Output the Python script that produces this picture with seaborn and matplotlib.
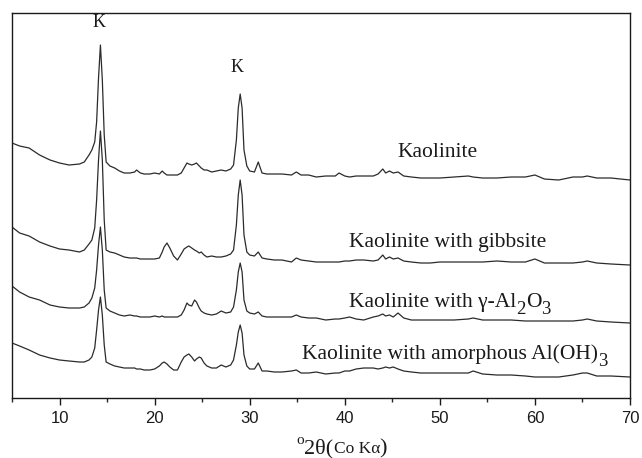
import matplotlib
matplotlib.use("Agg")
import matplotlib.pyplot as plt
import numpy as np
import pandas as pd
import seaborn as sns

# 2-theta grid (deg, Co K-alpha) shared by all four patterns
two_theta = [
    5.0, 5.8, 6.8, 7.9, 9.0, 10.0, 11.0, 12.1, 12.6, 13.1, 13.4, 13.7, 13.9, 14.1,
    14.3, 14.5, 14.7, 14.9, 15.3, 15.8, 16.3, 16.8, 17.4, 17.9, 18.1, 18.5, 18.9,
    19.5, 20.0, 20.5, 20.8, 21.0, 21.3, 21.6, 22.0, 22.4, 22.8, 23.1, 23.4, 23.6,
    23.9, 24.2, 24.4, 24.7, 24.9, 25.2, 25.5, 26.0, 26.5, 27.0, 27.5, 28.0, 28.3,
    28.6, 28.8, 29.0, 29.2, 29.4, 29.7, 30.0, 30.5, 30.9, 31.3, 31.8, 32.6, 33.4,
    34.4, 34.9, 35.4, 36.2, 37.0, 38.0, 39.0, 39.4, 40.0, 40.5, 41.2, 42.0, 43.0,
    43.5, 44.0, 44.3, 44.7, 45.1, 45.6, 46.2, 47.0, 48.0, 49.0, 50.0, 51.5, 53.0,
    53.5, 54.5, 56.0, 57.5, 59.0, 60.0, 61.0, 62.5, 64.0, 65.0, 65.5, 66.5, 68.0,
    70.0,
]

# intensities (a.u., already stacked)
kaolinite = [
    255, 252, 250, 243, 238, 235, 233, 234, 236, 243, 248, 256, 276, 320,
    353, 318, 263, 236, 232, 230, 227, 225, 225, 226, 228, 225, 224,
    224, 225, 224, 227, 225, 223, 223, 223, 223, 225, 230, 235, 234,
    233, 234, 235, 232, 230, 228, 228, 226, 227, 228, 227, 229, 233,
    258, 290, 304, 290, 248, 232, 227, 226, 236, 225, 224, 224, 224,
    223, 226, 223, 223, 221, 222, 222, 225, 222, 221, 222, 222, 222,
    224, 229, 225, 227, 225, 226, 222, 221, 220, 220, 220, 221, 222,
    221, 220, 220, 221, 221, 223, 219, 218, 221, 221, 222, 220, 220,
    218,
]
with_gibbsite = [
    171, 165, 162, 156, 152, 149, 148, 146, 148, 154, 158, 170, 198, 238,
    267, 238, 178, 148, 146, 145, 143, 141, 140, 140, 140, 139, 139,
    139, 139, 140, 146, 151, 155, 150, 142, 138, 144, 149, 151, 152,
    150, 148, 147, 145, 146, 143, 141, 142, 141, 141, 142, 144, 148,
    173, 203, 218, 203, 163, 146, 143, 142, 146, 140, 139, 138, 138,
    136, 140, 138, 137, 136, 136, 136, 136, 137, 137, 138, 138, 137,
    138, 143, 139, 141, 139, 140, 137, 136, 135, 135, 136, 136, 136,
    136, 136, 137, 136, 136, 139, 135, 135, 135, 136, 137, 135, 134,
    133,
]
with_gamma_alumina = [
    112, 106, 101, 98, 93, 91, 90, 90, 91, 95, 100, 110, 128, 153,
    171, 148, 108, 90, 87, 85, 83, 82, 83, 82, 82, 81, 81,
    81, 82, 81, 82, 81, 81, 81, 81, 81, 83, 88, 95, 93,
    92, 98, 96, 90, 87, 85, 84, 83, 84, 87, 85, 86, 91,
    108, 126, 135, 126, 98, 87, 85, 84, 86, 82, 81, 81, 81,
    81, 83, 81, 80, 80, 78, 79, 79, 80, 81, 79, 78, 81,
    82, 84, 82, 83, 81, 85, 80, 78, 78, 78, 78, 78, 79,
    80, 78, 78, 78, 77, 77, 77, 77, 77, 78, 79, 77, 76,
    75,
]
with_amorphous = [
    55, 52, 48, 43, 40, 38, 37, 36, 36, 38, 41, 50, 68, 88,
    101, 83, 53, 36, 34, 32, 31, 30, 30, 30, 29, 29, 28,
    28, 29, 32, 35, 36, 34, 31, 28, 28, 36, 41, 43, 44,
    41, 37, 39, 41, 40, 35, 32, 30, 30, 33, 31, 33, 38,
    53, 66, 73, 65, 43, 32, 29, 29, 35, 27, 27, 26, 26,
    27, 28, 25, 25, 26, 24, 25, 25, 27, 27, 29, 30, 30,
    29, 30, 31, 30, 31, 29, 27, 26, 25, 25, 25, 25, 25,
    27, 24, 23, 23, 22, 21, 21, 21, 23, 25, 25, 22, 22,
    21,
]

# sample names, split into (text, is_subscript) pieces
sample_labels = [
    [("Kaolinite", False)],
    [("Kaolinite with gibbsite", False)],
    [("Kaolinite with \u03b3-Al", False), ("2", True), ("O", False), ("3", True)],
    [("Kaolinite with amorphous Al(OH)", False), ("3", True)],
]
peak_labels = ["K", "K"]
peak_pos = [(14.2, 376), (28.7, 331)]

df = pd.DataFrame({"two_theta": two_theta})
series = [kaolinite, with_gibbsite, with_gamma_alumina, with_amorphous]

sns.set_style("ticks")
serif = ["Liberation Serif", "DejaVu Serif"]
ink = "#1a1a1a"

W, H = 642, 458
fig = plt.figure(figsize=(W / 100, H / 100), dpi=100)
ax = fig.add_axes([0.0187, 0.131, 0.9626, 0.8406])
renderer = fig.canvas.get_renderer()


def chain_text(cx, baseline, pieces):
    """Place text pieces side by side, centred on cx (pixels from left),
    baseline in pixels from the top; each piece = (text, size, lift_px)."""
    objs = []
    for s, size, lift in pieces:
        t = fig.text(0, 0, s, fontsize=size, family=serif, color=ink,
                     ha="left", va="baseline")
        objs.append((t, t.get_window_extent(renderer).width, lift))
    x = cx - sum(w for _, w, _ in objs) / 2
    for t, w, lift in objs:
        t.set_position((x / W, (H - baseline + lift) / H))
        x += w


line_color = "#2b2b2b"
for vals in series:
    sns.lineplot(x=df["two_theta"], y=vals, ax=ax, color=line_color, lw=0.9)

label_centres = [(438, 157), (448, 247), (450, 307), (455, 359)]
for parts, (cx, base) in zip(sample_labels, label_centres):
    chain_text(cx, base, [(s, 13.5, -7) if sub else (s, 15.5, 0)
                          for s, sub in parts])

for text, (x, y) in zip(peak_labels, peak_pos):
    ax.text(x, y, text, ha="center", va="center", fontsize=13,
            family=serif, color=ink)

ax.set_xlim(5, 70)
ax.set_ylim(0, 385)
ax.set_yticks([])
ax.set_ylabel("")
ax.set_xticks(np.arange(10, 71, 10))
ax.set_xticks(np.arange(5, 71, 5), minor=True)
ax.tick_params(axis="x", which="major", direction="out", length=5, width=1,
               labelsize=12, pad=4, colors=ink)
ax.tick_params(axis="x", which="minor", direction="out", length=3, width=1)
for lbl in ax.get_xticklabels():
    lbl.set_family(["Liberation Sans", "DejaVu Sans"])
for sp in ax.spines.values():
    sp.set_visible(True)
    sp.set_linewidth(1.0)
    sp.set_color(ink)

ax.set_xlabel("")
chain_text(342, 453, [("o", 11, 9), ("2\u03b8(", 16, 0), ("Co K\u03b1", 12.5, 0),
                      (")", 16, 0)])

fig.savefig("out.png", dpi=100)
